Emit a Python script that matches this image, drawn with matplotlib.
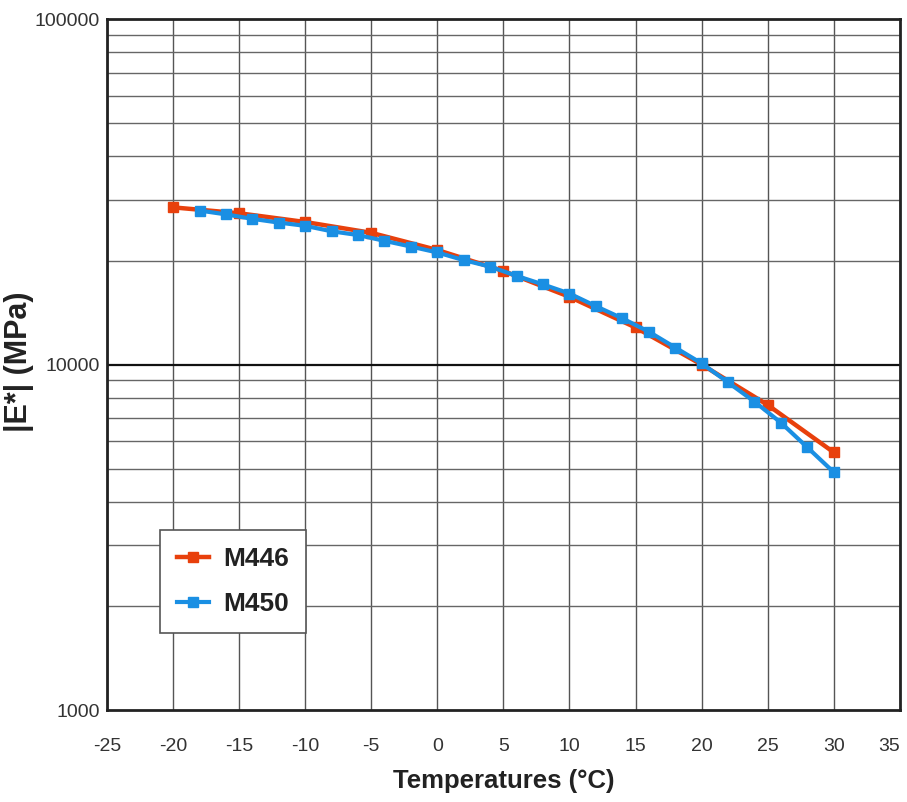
import numpy as np
import matplotlib.pyplot as plt
from matplotlib.ticker import FixedLocator, NullFormatter

# data
temp_m446 = [-20, -15, -10, -5, 0, 5, 10, 15, 20, 25, 30]
e_m446 = [28500, 27400, 25850, 24050, 21450, 18650, 15700, 12800, 10000, 7640, 5570]

temp_m450 = [-18, -16, -14, -12, -10, -8, -6, -4, -2, 0, 2, 4, 6, 8, 10,
             12, 14, 16, 18, 20, 22, 24, 26, 28, 30]
e_m450 = [27900, 27200, 26400, 25750, 25200, 24300, 23700, 22800, 21950, 21100,
          20050, 19200, 18050, 17050, 16050, 14750, 13600, 12450, 11200, 10080,
          8880, 7810, 6790, 5760, 4880]

x_ticks = list(range(-25, 40, 5))
y_ticks = [1000, 10000, 100000]

plt.rcParams['font.family'] = ['Liberation Sans', 'DejaVu Sans']

fig = plt.figure(figsize=(9.07, 8.02), dpi=100)
ax = fig.add_axes([0.118, 0.1147, 0.874, 0.8616])

ax.set_yscale('log')
ax.set_xlim(-25, 35)
ax.set_ylim(1000, 100000)

minor_y = [m * d for d in (1000, 10000) for m in range(2, 10)]
ax.yaxis.set_major_locator(FixedLocator(y_ticks))
ax.yaxis.set_minor_locator(FixedLocator(minor_y))
ax.yaxis.set_minor_formatter(NullFormatter())
ax.set_yticklabels([str(v) for v in y_ticks])
ax.set_xticks(x_ticks)
ax.set_xticklabels([str(v) for v in x_ticks])
# last label sits at the right edge of the image; keep it inside
ax.get_xticklabels()[-1].set_horizontalalignment('right')

ax.grid(True, which='major', axis='x', color='#555555', lw=1.0)
ax.grid(True, which='minor', axis='y', color='#666666', lw=1.0)
ax.axhline(10000, color='#111111', lw=1.6)

ax.plot(temp_m446, e_m446, color='#E8400C', lw=3.2, marker='s', ms=7,
        label='M446', zorder=3)
ax.plot(temp_m450, e_m450, color='#1A8FE3', lw=3.0, marker='s', ms=6.5,
        label='M450', zorder=4)

for s in ax.spines.values():
    s.set_color('#222222')
    s.set_linewidth(2.0)

ax.tick_params(axis='both', which='both', length=0, labelsize=14, colors='#333333')
ax.tick_params(axis='x', pad=20)
ax.tick_params(axis='y', pad=5)

ax.set_xlabel('Temperatures (°C)', fontsize=18.5, fontweight='bold', color='#222222', labelpad=10)
fig.text(19 / 907, 1 - 362 / 802, '|E*| (MPa)', rotation=90, fontsize=22,
         fontweight='bold', color='#222222', ha='center', va='center')

leg = ax.legend(loc='lower left', bbox_to_anchor=(0.067, 0.111),
                prop={'weight': 'bold', 'size': 19}, fancybox=False,
                edgecolor='#555555', framealpha=1, handlelength=1.2,
                handletextpad=0.55, borderpad=0.65, labelspacing=0.8,
                borderaxespad=0)
leg.get_frame().set_linewidth(1.2)
for t in leg.get_texts():
    t.set_color('#222222')

fig.savefig('out.png', dpi=100)
